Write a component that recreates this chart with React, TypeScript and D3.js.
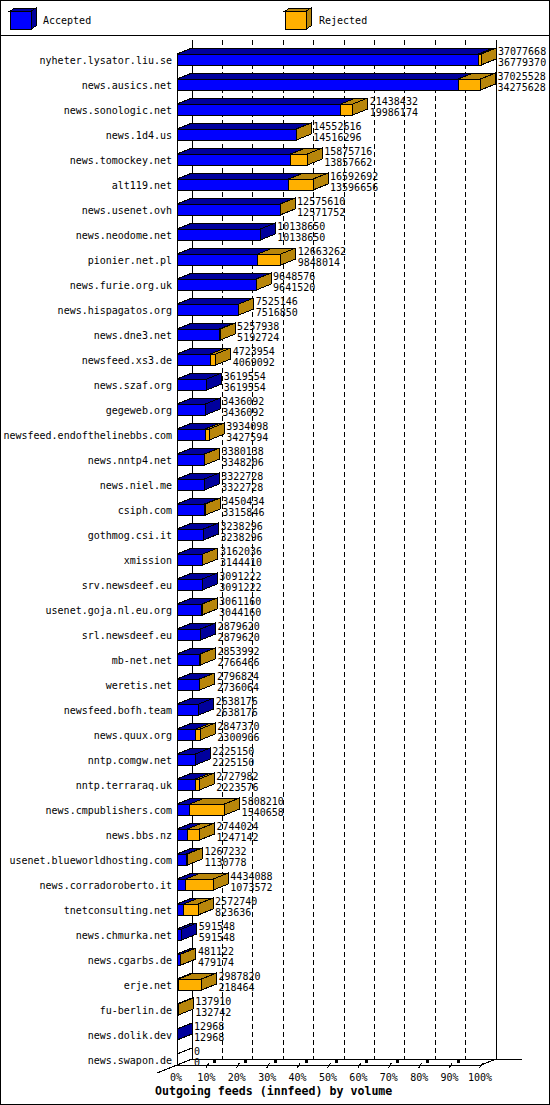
import * as d3 from 'd3'

// innfeed outgoing volume per peer (offered total / accepted)
const hosts = [
  'nyheter.lysator.liu.se', 'news.ausics.net', 'news.sonologic.net', 'news.1d4.us',
  'news.tomockey.net', 'alt119.net', 'news.usenet.ovh', 'news.neodome.net',
  'pionier.net.pl', 'news.furie.org.uk', 'news.hispagatos.org', 'news.dne3.net',
  'newsfeed.xs3.de', 'news.szaf.org', 'gegeweb.org', 'newsfeed.endofthelinebbs.com',
  'news.nntp4.net', 'news.niel.me', 'csiph.com', 'gothmog.csi.it', 'xmission',
  'srv.newsdeef.eu', 'usenet.goja.nl.eu.org', 'srl.newsdeef.eu', 'mb-net.net',
  'weretis.net', 'newsfeed.bofh.team', 'news.quux.org', 'nntp.comgw.net',
  'nntp.terraraq.uk', 'news.cmpublishers.com', 'news.bbs.nz',
  'usenet.blueworldhosting.com', 'news.corradoroberto.it', 'tnetconsulting.net',
  'news.chmurka.net', 'news.cgarbs.de', 'erje.net', 'fu-berlin.de',
  'news.dolik.dev', 'news.swapon.de',
]

const offered = [
  37077668, 37025528, 21438432, 14552616, 15875716, 16592692, 12575610, 10138650,
  12663262, 9648576, 7525146, 5257938, 4723954, 3619554, 3436092, 3934098,
  3380138, 3322728, 3450434, 3238296, 3162036, 3091222, 3061160, 2879620,
  2853992, 2796824, 2638176, 2847370, 2225150, 2727982, 5808210, 2744024,
  1267232, 4434088, 2572740, 591548, 481122, 2987820, 137910, 12968, 0,
]

const accepted = [
  36779370, 34275628, 19986174, 14516296, 13857662, 13596656, 12571752, 10138650,
  9848014, 9641520, 7516850, 5192724, 4069092, 3619554, 3436092, 3427594,
  3348206, 3322728, 3315846, 3238296, 3144410, 3091222, 3044160, 2879620,
  2766466, 2736064, 2638176, 2300906, 2225150, 2223576, 1540658, 1247142,
  1130778, 1073572, 823636, 591548, 479174, 218464, 132742, 12968, 0,
]

const pctTicks = [0, 10, 20, 30, 40, 50, 60, 70, 80, 90, 100]

const W = 550
const H = 1105
const FRONT_X = 177
const PLOT_W = 304
const DX = 15
const DY = -6
const HALF = 5.5
const WALL_TOP = 40
const FLOOR_Y = 1065

const BLUE = '#0000ff'
const BLUE_DARK = '#00009c'
const ORANGE = '#ffb000'
const ORANGE_DARK = '#b8860b'
const MONO = '"DejaVu Sans Mono", "Liberation Mono", monospace'

const pts = (p: [number, number][]) => p.map(d => d.join(',')).join(' ')

export default function App() {
  const x = d3.scaleLinear()
    .domain([0, d3.max(offered) as number])
    .range([FRONT_X, FRONT_X + PLOT_W])

  const xPct = d3.scaleLinear().domain([0, 100]).range([FRONT_X, FRONT_X + PLOT_W])

  const y = d3.scaleBand<string>()
    .domain(hosts)
    .range([47, 47 + 25 * hosts.length])

  const cy = (h: string) => (y(h) as number) + y.bandwidth() / 2

  return (
    <svg
      width={W}
      height={H}
      viewBox={`0 0 ${W} ${H}`}
      style={{ position: 'absolute', left: 0, top: 0, background: '#fff' }}
      shapeRendering="crispEdges"
      fontFamily={MONO}
    >
      <rect x={0.5} y={0.5} width={W - 1} height={H - 1} fill="#fff" stroke="#000" />

      {/* legend */}
      <line x1={0} x2={W} y1={35.5} y2={35.5} stroke="#000" />
      {[
        { label: 'Accepted', x0: 10, front: BLUE, dark: BLUE_DARK, tx: 43 },
        { label: 'Rejected', x0: 285, front: ORANGE, dark: ORANGE_DARK, tx: 319 },
      ].map(l => (
        <g key={l.label}>
          <polygon points={pts([[l.x0, 11], [l.x0 + 21, 11], [l.x0 + 26, 8], [l.x0 + 5, 8]])}
            fill={l.dark} stroke="#000" />
          <polygon points={pts([[l.x0 + 21, 11], [l.x0 + 21, 29], [l.x0 + 26, 26], [l.x0 + 26, 8]])}
            fill={l.dark} stroke="#000" />
          <rect x={l.x0} y={11} width={21} height={18} fill={l.front} stroke="#000" />
          <text x={l.tx} y={24} fontSize={10} fill="#000">{l.label}</text>
        </g>
      ))}

      {/* back wall grid */}
      {pctTicks.map(p => (
        <line
          key={`grid-${p}`}
          x1={xPct(p) + DX}
          x2={xPct(p) + DX}
          y1={WALL_TOP}
          y2={FLOOR_Y + DY}
          stroke="#000"
          strokeDasharray={p === 0 || p === 100 ? undefined : '5,3'}
        />
      ))}

      {/* floor */}
      <line x1={157} y1={FLOOR_Y + 8} x2={FRONT_X + DX} y2={FLOOR_Y + DY} stroke="#000" />
      <line x1={FRONT_X} x2={FRONT_X + PLOT_W} y1={FLOOR_Y} y2={FLOOR_Y} stroke="#000" />
      <line x1={FRONT_X + PLOT_W} y1={FLOOR_Y} x2={FRONT_X + PLOT_W + DX} y2={FLOOR_Y + DY} stroke="#000" />
      <line x1={FRONT_X + DX} x2={522} y1={FLOOR_Y + DY} y2={FLOOR_Y + DY} stroke="#000" />
      <line x1={FRONT_X} x2={FRONT_X} y1={cy(hosts[0]) - HALF} y2={FLOOR_Y} stroke="#000" />

      {pctTicks.slice(1).map(p => (
        <g key={`tick-${p}`}>
          <line x1={xPct(p) - 1.5} y1={FLOOR_Y + 3} x2={xPct(p) + 1.5} y2={FLOOR_Y - 2} stroke="#000" />
          {p < 100 && <rect x={xPct(p) + 6} y={FLOOR_Y - 5} width={3} height={3} fill="#000" />}
        </g>
      ))}

      {/* bars */}
      {hosts.map((h, i) => {
        const c = cy(h)
        const yt = c - HALF
        const yb = c + HALF
        const xa = x(accepted[i])
        const xt = x(offered[i])
        const rejected = offered[i] - accepted[i]
        const sideFill = offered[i] === 0 ? 'none' : rejected > 0 ? ORANGE_DARK : BLUE_DARK
        return (
          <g key={h}>
            <polygon points={pts([[FRONT_X, yt], [xa, yt], [xa + DX, yt + DY], [FRONT_X + DX, yt + DY]])}
              fill={BLUE_DARK} stroke="#000" />
            {rejected > 0 && (
              <polygon points={pts([[xa, yt], [xt, yt], [xt + DX, yt + DY], [xa + DX, yt + DY]])}
                fill={ORANGE_DARK} stroke="#000" />
            )}
            <polygon points={pts([[xt, yt], [xt, yb], [xt + DX, yb + DY], [xt + DX, yt + DY]])}
              fill={sideFill} stroke="#000" />
            {xa > FRONT_X && (
              <rect x={FRONT_X} y={yt} width={xa - FRONT_X} height={yb - yt} fill={BLUE} stroke="#000" />
            )}
            {rejected > 0 && (
              <rect x={xa} y={yt} width={xt - xa} height={yb - yt} fill={ORANGE} stroke="#000" />
            )}
          </g>
        )
      })}

      {/* labels */}
      <g fontSize={10} fill="#000">
        {hosts.map((h, i) => {
          const c = cy(h)
          const lx = x(offered[i]) + 17
          return (
            <g key={`lbl-${h}`}>
              <text x={172} y={c + 4} textAnchor="end">{h}</text>
              <text x={lx} y={c - 5}>{offered[i]}</text>
              <text x={lx} y={c + 6}>{accepted[i]}</text>
            </g>
          )
        })}
        {pctTicks.map(p => (
          <text key={`pct-${p}`} x={xPct(p) - 1} y={1081} textAnchor="middle">{`${p}%`}</text>
        ))}
      </g>

      <text x={155} y={1095} fontSize={11.6} fontWeight="bold" fill="#000">
        Outgoing feeds (innfeed) by volume
      </text>
    </svg>
  )
}
